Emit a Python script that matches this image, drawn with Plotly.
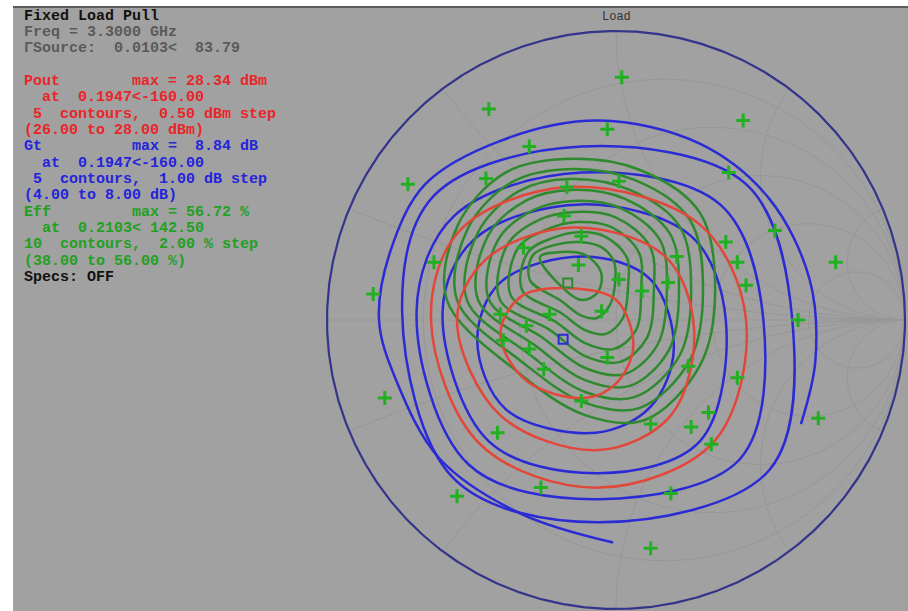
import numpy as np
import plotly.graph_objects as go

# ---------------------------------------------------------------- data
# Contours in the load reflection-coefficient plane (Gamma real, Gamma imag)
POUT_LEVELS = [28.0, 27.5, 27.0]
POUT_RE = [
    [-0.40, -0.33, -0.16, 0.00, 0.06, 0.00, -0.11, -0.31],
    [-0.55, -0.45, -0.15, 0.17, 0.27, 0.19, -0.06, -0.40],
    [-0.64, -0.54, -0.16, 0.29, 0.45, 0.34, -0.06, -0.47],
]
POUT_IM = [
    [-0.05, 0.08, 0.11, 0.07, -0.09, -0.22, -0.27, -0.21],
    [0.00, 0.21, 0.32, 0.22, -0.03, -0.33, -0.45, -0.33],
    [0.00, 0.31, 0.46, 0.33, 0.00, -0.42, -0.58, -0.43],
]

GT_LEVELS = [8.0, 7.0, 6.0, 5.0]
GT_RE = [
    [-0.48, -0.40, -0.11, 0.12, 0.20, 0.12, -0.07, -0.38],
    [-0.60, -0.49, -0.12, 0.26, 0.38, 0.29, -0.06, -0.44],
    [-0.69, -0.56, -0.12, 0.36, 0.51, 0.43, -0.06, -0.51],
    [-0.74, -0.63, -0.12, 0.45, 0.61, 0.53, -0.06, -0.56],
]
GT_IM = [
    [-0.07, 0.13, 0.22, 0.14, -0.10, -0.30, -0.39, -0.31],
    [0.03, 0.28, 0.40, 0.29, 0.00, -0.42, -0.53, -0.42],
    [0.03, 0.36, 0.51, 0.40, 0.00, -0.48, -0.62, -0.50],
    [0.03, 0.43, 0.60, 0.47, 0.00, -0.52, -0.70, -0.55],
]
# 4 dB contour is open (runs off the measured region)
GT4_RE = [-0.01, -0.33, -0.61, -0.76, -0.82, -0.78, -0.66, -0.40, -0.06, 0.29, 0.53, 0.67, 0.69, 0.64]
GT4_IM = [-0.77, -0.67, -0.48, -0.21, 0.00, 0.24, 0.47, 0.62, 0.69, 0.61, 0.42, 0.14, -0.14, -0.36]

EFF_LEVELS = [38, 40, 42, 44, 46, 48, 50, 52, 54, 56]
EFF_RE = [
    [-0.585, -0.547, -0.384, -0.176, 0.083, 0.291, 0.343, 0.291, 0.100, -0.107, -0.349],
    [-0.550, -0.512, -0.360, -0.170, 0.066, 0.256, 0.301, 0.256, 0.083, -0.107, -0.325],
    [-0.516, -0.477, -0.336, -0.163, 0.048, 0.221, 0.260, 0.221, 0.066, -0.107, -0.301],
    [-0.477, -0.443, -0.308, -0.156, 0.031, 0.187, 0.218, 0.183, 0.048, -0.107, -0.277],
    [-0.439, -0.408, -0.284, -0.149, 0.014, 0.152, 0.176, 0.145, 0.031, -0.107, -0.253],
    [-0.401, -0.374, -0.260, -0.142, -0.003, 0.118, 0.131, 0.107, 0.014, -0.107, -0.228],
    [-0.363, -0.339, -0.235, -0.135, -0.017, 0.080, 0.087, 0.069, -0.007, -0.107, -0.208],
    [-0.325, -0.304, -0.218, -0.131, -0.035, 0.038, 0.042, 0.024, -0.035, -0.107, -0.190],
    [-0.298, -0.287, -0.211, -0.131, -0.052, -0.007, -0.003, -0.021, -0.066, -0.118, -0.194],
    [-0.263, -0.194, -0.118, -0.062, -0.052, -0.107, -0.194],
]
EFF_IM = [
    [0.069, 0.329, 0.509, 0.557, 0.519, 0.370, 0.104, -0.156, -0.346, -0.329, -0.173],
    [0.069, 0.318, 0.477, 0.522, 0.484, 0.346, 0.104, -0.138, -0.304, -0.287, -0.145],
    [0.069, 0.304, 0.446, 0.488, 0.450, 0.322, 0.104, -0.121, -0.266, -0.249, -0.118],
    [0.069, 0.291, 0.415, 0.450, 0.419, 0.298, 0.104, -0.104, -0.228, -0.208, -0.090],
    [0.069, 0.277, 0.381, 0.412, 0.388, 0.277, 0.104, -0.083, -0.187, -0.166, -0.062],
    [0.069, 0.263, 0.349, 0.374, 0.356, 0.253, 0.104, -0.062, -0.145, -0.125, -0.035],
    [0.083, 0.249, 0.315, 0.339, 0.322, 0.232, 0.111, -0.035, -0.100, -0.080, -0.007],
    [0.104, 0.235, 0.284, 0.304, 0.287, 0.215, 0.121, 0.007, -0.048, -0.035, 0.024],
    [0.138, 0.225, 0.260, 0.270, 0.253, 0.201, 0.128, 0.052, 0.007, 0.014, 0.069],
    [0.218, 0.121, 0.069, 0.097, 0.166, 0.225, 0.235],
]

# simulated load impedance states
PTS_RE = [0.02, -0.44, -0.03, 0.44, -0.30, -0.72, 0.39, -0.45, 0.01, -0.17, -0.18, -0.12,
          -0.32, -0.13, 0.01, 0.09, 0.18, 0.21, -0.05, -0.23, -0.40, -0.63, -0.31, -0.39,
          -0.30, -0.25, -0.12, -0.03, 0.25, 0.12, 0.26, -0.41, -0.84, -0.80, -0.55, -0.26,
          0.12, 0.19, 0.33, 0.32, 0.70, 0.76, 0.63, 0.55, 0.38, 0.42, 0.45, 0.42]
PTS_IM = [0.84, 0.73, 0.66, 0.69, 0.60, 0.47, 0.51, 0.49, 0.48, 0.46, 0.36, 0.29,
          0.25, 0.19, 0.14, 0.10, 0.13, 0.22, 0.03, 0.02, 0.02, 0.20, -0.02, -0.07,
          -0.10, -0.17, -0.28, -0.13, -0.16, -0.36, -0.37, -0.39, 0.09, -0.27, -0.61, -0.58,
          -0.79, -0.60, -0.43, -0.32, -0.34, 0.20, 0.00, 0.31, 0.27, 0.20, 0.12, -0.20]

# maxima (magnitude, angle in degrees)
GT_MAX = (0.1947, -160.00)
EFF_MAX = (0.2103, 142.50)

TEXT_LINES = [
    ("Fixed Load Pull", "#111111"),
    ("Freq = 3.3000 GHz", "#5a5a5a"),
    ("\u0393Source:  0.0103<  83.79", "#5a5a5a"),
    ("", "#000000"),
    ("Pout        max = 28.34 dBm", "#e8262a"),
    ("  at  0.1947<-160.00", "#e8262a"),
    (" 5  contours,  0.50 dBm step", "#e8262a"),
    ("(26.00 to 28.00 dBm)", "#e8262a"),
    ("Gt          max =  8.84 dB", "#2424dc"),
    ("  at  0.1947<-160.00", "#2424dc"),
    (" 5  contours,  1.00 dB step", "#2424dc"),
    ("(4.00 to 8.00 dB)", "#2424dc"),
    ("Eff         max = 56.72 %", "#22a022"),
    ("  at  0.2103< 142.50", "#22a022"),
    ("10  contours,  2.00 % step", "#22a022"),
    ("(38.00 to 56.00 %)", "#22a022"),
    ("Specs: OFF", "#111111"),
]

# ---------------------------------------------------------------- layout constants
W, H = 908, 611
ML, MT = 13, 7
PW, PH = W - ML, H - MT
CX, CY, R = 616, 320, 289          # unit circle centre / radius on the page

BG = "#a1a1a1"
GRID = "#979797"
RIM = "#34348a"
RED = "#e2473a"
BLUE = "#2b2bd6"
GREEN = "#2f8a2f"
MARK = "#22b022"

x_range = [-(CX - ML) / R, (W - CX) / R]
y_range = [-(H - CY) / R, (CY - MT) / R]

fig = go.Figure()

# ---------------------------------------------------------------- Smith grid
t = np.linspace(0, 2 * np.pi, 721)


def add_line(x, y, color=GRID, width=1):
    fig.add_trace(go.Scatter(x=x, y=y, mode="lines", hoverinfo="skip",
                             line=dict(color=color, width=width), showlegend=False))


for r in [0.2, 0.5, 1.0, 2.0, 5.0]:
    c, rad = r / (1 + r), 1 / (1 + r)
    add_line(c + rad * np.cos(t), rad * np.sin(t))

for xv in [0.2, 0.5, 1.0, 2.0, 5.0]:
    for s in (1, -1):
        cyc, rad = s / xv, 1 / xv
        xx = 1 + rad * np.cos(t)
        yy = cyc + rad * np.sin(t)
        keep = xx ** 2 + yy ** 2 <= 1.0001
        xx = np.where(keep, xx, np.nan)
        yy = np.where(keep, yy, np.nan)
        add_line(xx, yy)

add_line([-1, 1], [0, 0])
add_line(np.cos(t), np.sin(t), color=RIM, width=2.2)


# ---------------------------------------------------------------- contours
def closed(xs, ys):
    return list(xs) + [xs[0]], list(ys) + [ys[0]]


def add_contour(xs, ys, color, close=True):
    if close:
        xs, ys = closed(xs, ys)
    fig.add_trace(go.Scatter(x=xs, y=ys, mode="lines", hoverinfo="skip", showlegend=False,
                             line=dict(color=color, width=2.5, shape="spline", smoothing=1.0)))


for xs, ys in zip(GT_RE, GT_IM):
    add_contour(xs, ys, BLUE)
add_contour(GT4_RE, GT4_IM, BLUE, close=False)
for xs, ys in zip(EFF_RE, EFF_IM):
    add_contour(xs, ys, GREEN)
for xs, ys in zip(POUT_RE, POUT_IM):
    add_contour(xs, ys, RED)

fig.add_trace(go.Scatter(x=PTS_RE, y=PTS_IM, mode="markers", hoverinfo="skip", showlegend=False,
                         marker=dict(symbol="cross-thin", size=10,
                                     line=dict(color=MARK, width=3))))


def polar(mag, ang):
    a = np.deg2rad(ang)
    return [mag * np.cos(a)], [mag * np.sin(a)]


for (mag, ang), col in [(GT_MAX, BLUE), (EFF_MAX, GREEN)]:
    px, py = polar(mag, ang)
    fig.add_trace(go.Scatter(x=px, y=py, mode="markers", hoverinfo="skip", showlegend=False,
                             marker=dict(symbol="square-open", size=9,
                                         line=dict(color=col, width=2), color=col)))

# ---------------------------------------------------------------- text block
annotations = []
for i, (txt, col) in enumerate(TEXT_LINES):
    if not txt:
        continue
    yp = 16 + 16.35 * i
    annotations.append(dict(
        x=(22 - ML) / PW, y=1 - (yp - MT) / PH, xref="paper", yref="paper",
        text=txt.replace(" ", "&nbsp;"), showarrow=False, xanchor="left", yanchor="middle",
        font=dict(family="Liberation Mono", size=15, color=col, weight="bold")))

annotations.append(dict(
    x=0.0, y=(CY - 17) / R, xref="x", yref="y", text="Load", showarrow=False,
    xanchor="center", yanchor="middle",
    font=dict(family="Liberation Mono", size=12, color="#333333")))

fig.update_layout(
    width=W, height=H,
    margin=dict(l=ML, r=0, t=MT, b=0),
    paper_bgcolor="white", plot_bgcolor=BG,
    xaxis=dict(range=x_range, visible=False, fixedrange=True),
    yaxis=dict(range=y_range, visible=False, fixedrange=True),
    annotations=annotations,
    shapes=[dict(type="line", xref="paper", yref="paper", x0=0, x1=1, y0=1, y1=1,
                 line=dict(color="#5c5c5c", width=2))],
)

fig.write_html("out.html")
